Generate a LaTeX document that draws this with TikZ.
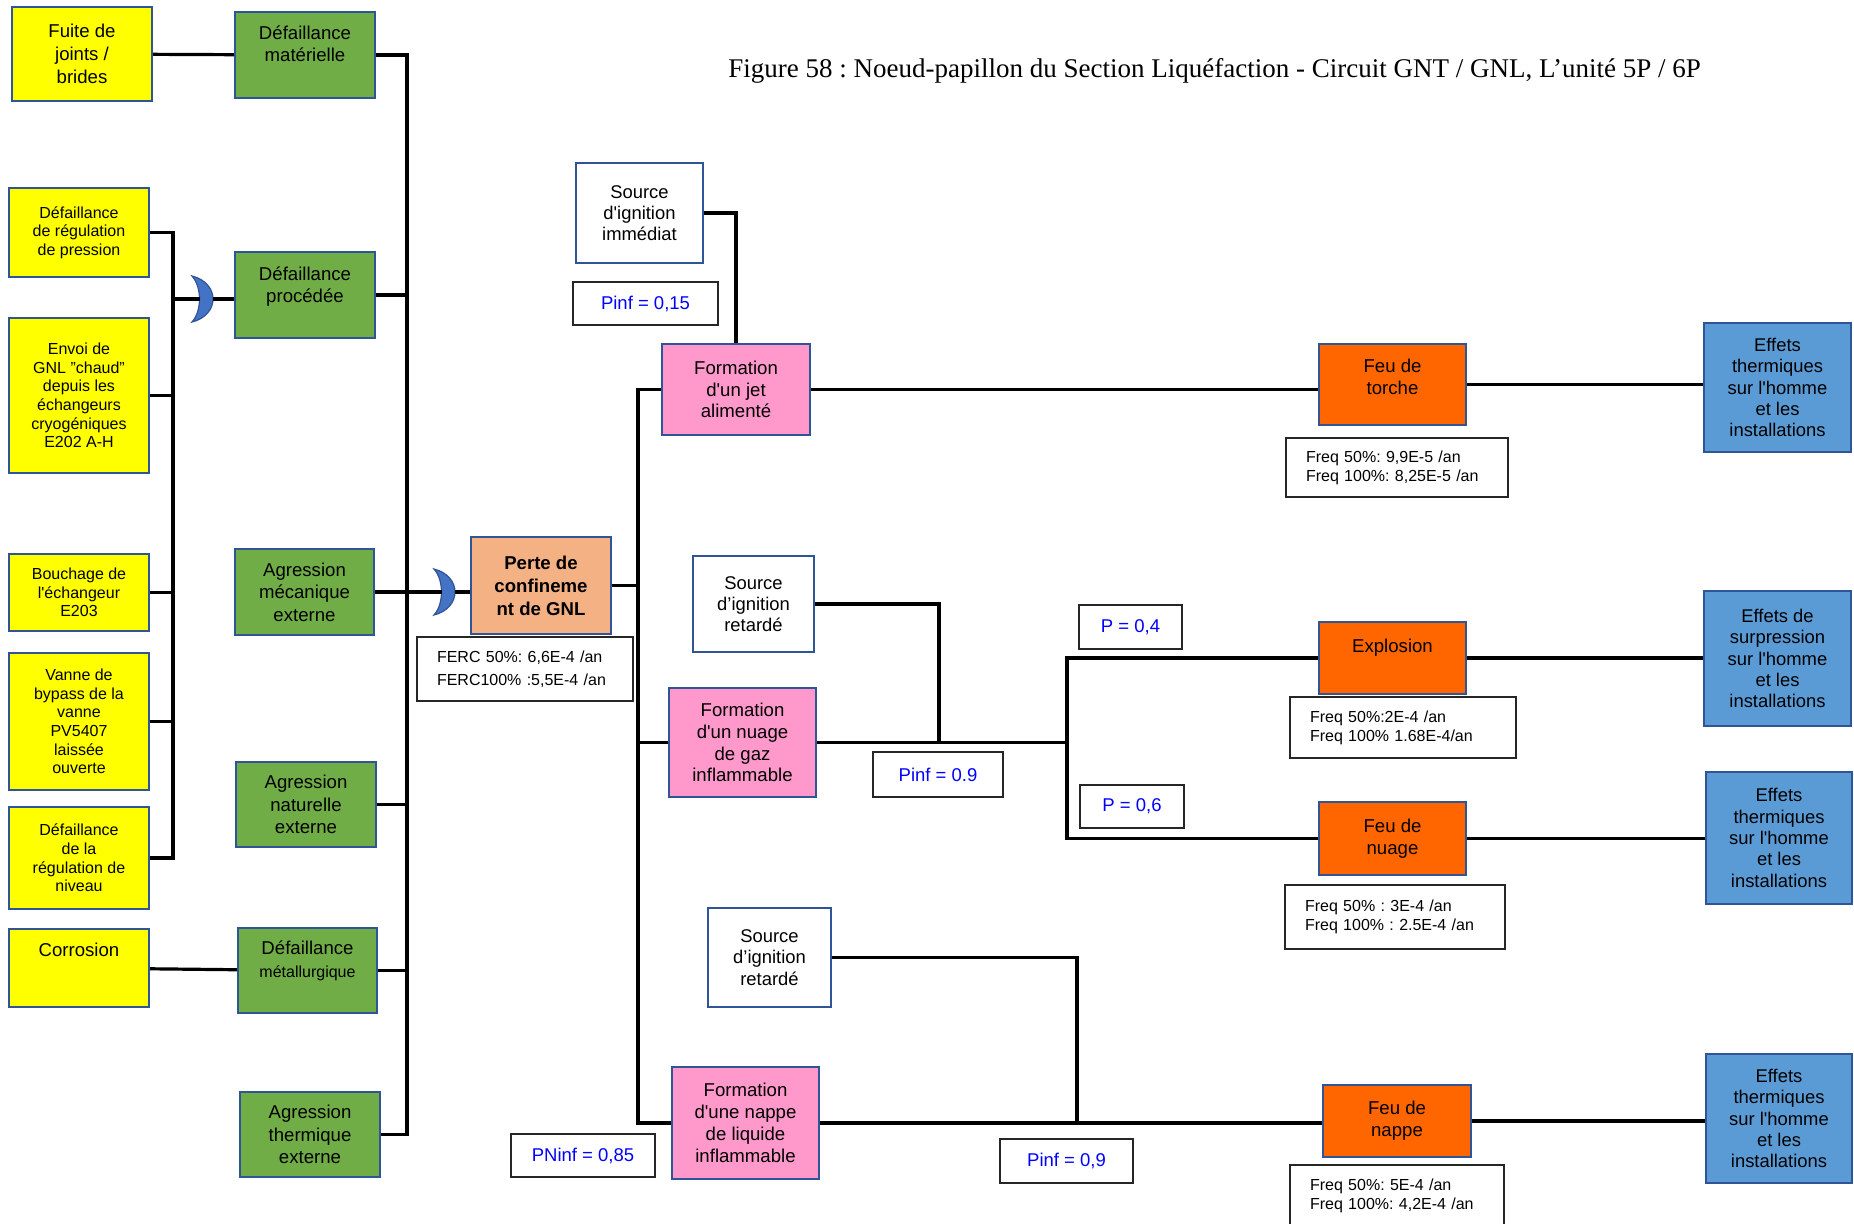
\documentclass[tikz,border=0pt]{standalone}
\usepackage{fontspec}
\setmainfont{Liberation Sans}
\newfontfamily\titlefont{Liberation Serif}
\definecolor{causefill}{HTML}{FFFF00}
\definecolor{eventfill}{HTML}{70AD47}
\definecolor{topfill}{HTML}{F4B183}
\definecolor{phenfill}{HTML}{FF99CC}
\definecolor{firefill}{HTML}{FF6600}
\definecolor{effectfill}{HTML}{5B9BD5}
\definecolor{frame}{HTML}{2F5597}
\definecolor{gatefill}{HTML}{4472C4}
\newcommand{\ap}{\textquotesingle}
% text block pushed up inside its box, box size unchanged
\newcommand{\liftup}[2]{\raisebox{#1}[\height][\depth]{\begin{tabular}{@{}c@{}}#2\end{tabular}}}

\begin{document}
\frenchspacing
\begin{tikzpicture}[
  x=0.5pt, y=-0.5pt,
  wh/.style 2 args={minimum width=#1*0.5pt, minimum height=#2*0.5pt},
  blk/.style={draw=frame, line width=1.2pt, inner sep=1pt, align=center,
    font=\fontsize{9.3}{11.3}\selectfont},
  causebox/.style={blk, fill=causefill, font=\fontsize{8}{9.3}\selectfont},
  bigtxt/.style={font=\fontsize{9.3}{11.5}\selectfont},
  eventbox/.style={blk, fill=eventfill},
  topbox/.style={blk, fill=topfill, font=\bfseries\fontsize{9.3}{11.5}\selectfont},
  srcbox/.style={blk, fill=white, font=\fontsize{9.2}{10.6}\selectfont},
  phenbox/.style={blk, fill=phenfill, font=\fontsize{9.3}{10.9}\selectfont},
  firebox/.style={blk, fill=firefill, font=\fontsize{9.3}{11}\selectfont},
  effbox/.style={blk, fill=effectfill, font=\fontsize{9.2}{10.7}\selectfont},
  probbox/.style={draw=black!85, line width=0.7pt, fill=white, inner sep=1pt,
    text=blue, font=\fontsize{9.25}{11}\selectfont},
  freqbox/.style={draw=black!85, line width=0.7pt, fill=white, inner xsep=10pt,
    inner ysep=1pt, align=left, font=\fontsize{8}{9.4}\selectfont},
  link/.style={line width=1.6pt},
  orgate/.pic={
    \path[fill=gatefill, draw=frame, line width=0.6pt]
      (0,-23) .. controls (28,-16) and (28,16) .. (0,23)
              .. controls (10,12) and (10,-12) .. (0,-23) -- cycle;
    \coordinate (-in) at (7.5,0);
    \coordinate (-out) at (21,0);
  },
]
  \path[use as bounding box, fill=white] (0,0) rectangle (1854,1223);
  \clip (0,0) rectangle (1854,1223);

  \node[font=\titlefont\fontsize{13.5}{16}\selectfont, anchor=west, inner sep=0pt]
    (title) at (728,71)
    {Figure 58 : Noeud-papillon du Section Liquéfaction - Circuit GNT / GNL, L’unité 5P / 6P};

  % Causes
  \node[causebox, bigtxt, wh={140}{94}] (y1) at (82,54) {Fuite de\\joints /\\brides};
  \node[causebox, wh={140}{89}] (y2) at (79,232.5) {Défaillance\\de régulation\\de pression};
  \node[causebox, wh={140}{155}] (y3) at (79,395.5)
    {Envoi de\\GNL "chaud"\\depuis les\\échangeurs\\cryogéniques\\E202 A-H};
  \node[causebox, wh={140}{77}] (y4) at (79,592.5) {Bouchage de\\l\ap échangeur\\E203};
  \node[causebox, wh={140}{137}] (y5) at (79,721.5)
    {Vanne de\\bypass de la\\vanne\\PV5407\\laissée\\ouverte};
  \node[causebox, wh={140}{102}] (y6) at (79,858) {Défaillance\\de la\\régulation de\\niveau};
  \node[causebox, bigtxt, wh={140}{78}] (y7) at (79,968) {\liftup{8pt}{Corrosion}};

  % Initiating events
  \node[eventbox, wh={140}{86}] (g1) at (305,55) {\liftup{4.5pt}{Défaillance\\matérielle}};
  \node[eventbox, wh={140}{86}] (g2) at (305,295) {\liftup{4pt}{Défaillance\\procédée}};
  \node[eventbox, wh={139}{86}] (g3) at (304.5,592) {Agression\\mécanique\\externe};
  \node[eventbox, wh={140}{85}] (g4) at (306,804.5) {Agression\\naturelle\\externe};
  \node[eventbox, wh={139}{85}] (g5) at (307.5,970.5)
    {\liftup{4.5pt}{Défaillance\\{\fontsize{8}{9.5}\selectfont métallurgique}}};
  \node[eventbox, wh={140}{85}] (g6) at (310,1134.5) {Agression\\thermique\\externe};

  % OR gates
  \pic (orA) at (192,299) {orgate};
  \pic (orB) at (434,592) {orgate};

  % Central event
  \node[topbox, wh={140}{97}] (perte) at (541,585.5) {Perte de\\confineme\\nt de GNL};
  \node[freqbox, text width=88pt, wh={216}{64}, font=\fontsize{8}{11.3}\selectfont]
    (ferc) at (525,669) {FERC 50\%: 6,6E-4 /an\\FERC100\% :5,5E-4 /an};

  % Ignition sources and dangerous phenomena
  \node[srcbox, wh={127}{100}] (s1) at (639.5,213) {Source\\d\ap ignition\\immédiat};
  \node[srcbox, wh={121}{96}] (s2) at (753.5,604) {Source\\d’ignition\\retardé};
  \node[srcbox, wh={123}{99}] (s3) at (769.5,957.5) {Source\\d’ignition\\retardé};
  \node[phenbox, wh={148}{91}] (jet) at (736,389.5) {Formation\\d\ap un jet\\alimenté};
  \node[phenbox, wh={147}{109}] (nuage) at (742.5,742.5)
    {Formation\\d\ap un nuage\\de gaz\\inflammable};
  \node[phenbox, wh={147}{112}] (nappe) at (745.5,1123)
    {Formation\\d\ap une nappe\\de liquide\\inflammable};

  \node[probbox, wh={145}{43}] (p1) at (645.5,303.5) {Pinf = 0,15};
  \node[probbox, wh={130}{45}] (p2) at (938,774.5) {Pinf = 0.9};
  \node[probbox, wh={103}{44}] (p3) at (1130.5,627) {P = 0,4};
  \node[probbox, wh={104}{43}] (p4) at (1132,806.5) {P = 0,6};
  \node[probbox, wh={144}{43}] (p5) at (583,1155.5) {PNinf = 0,85};
  \node[probbox, wh={133}{44}] (p6) at (1066.5,1161) {Pinf = 0,9};

  % Major accidents
  \node[firebox, wh={147}{81}] (ft) at (1392.5,384.5) {\liftup{2.75pt}{Feu de\\torche}};
  \node[firebox, wh={147}{72}] (ex) at (1392.5,658) {\liftup{5pt}{Explosion}};
  \node[firebox, wh={147}{73}] (fn) at (1392.5,838.5) {Feu de\\nuage};
  \node[firebox, wh={148}{72}] (fp) at (1397,1121) {Feu de\\nappe};

  \node[freqbox, text width=91pt, wh={222}{59}] (f1) at (1397,467.5)
    {Freq 50\%: 9,9E-5 /an\\Freq 100\%: 8,25E-5 /an};
  \node[freqbox, text width=93pt, wh={226}{61}] (f2) at (1403,727.5)
    {Freq 50\%:2E-4 /an\\Freq 100\% 1.68E-4/an};
  \node[freqbox, text width=90pt, wh={220}{64}] (f3) at (1395,917)
    {Freq 50\% : 3E-4 /an\\Freq 100\% : 2.5E-4 /an};
  \node[freqbox, text width=87pt, wh={214}{62}] (f4) at (1397,1196)
    {Freq 50\%: 5E-4 /an\\Freq 100\%: 4,2E-4 /an};

  % Effects
  \node[effbox, wh={147}{129}] (e1) at (1777.5,387.5)
    {Effets\\thermiques\\sur l\ap homme\\et les\\installations};
  \node[effbox, wh={147}{135}] (e2) at (1777.5,658.5)
    {Effets de\\surpression\\sur l\ap homme\\et les\\installations};
  \node[effbox, wh={146}{132}] (e3) at (1779,838)
    {Effets\\thermiques\\sur l\ap homme\\et les\\installations};
  \node[effbox, wh={146}{129}] (e4) at (1779,1118.5)
    {Effets\\thermiques\\sur l\ap homme\\et les\\installations};

  % Bus lines
  \coordinate (busY) at (173,0);
  \coordinate (busG) at (407,0);
  \coordinate (busP) at (638,0);
  \coordinate (jn1) at (939,742.5);
  \coordinate (split) at (1067,742.5);
  \coordinate (jn2) at (1077,1123);

  % Left side
  \draw[link] (y1) -- (g1);
  \draw[link] (y7) -- (g5);
  \draw[link] (y2.east) -| (busY |- y6.east) -- (y6.east);
  \foreach \n in {y3,y4,y5}
    \draw[link] (\n.east) -- (busY |- \n.east);
  \draw[link] (busY |- orA-in) -- (orA-in);
  \draw[link] (orA-out) -- (orA-out -| g2.west);
  \draw[link] (g1.east) -| (busG |- g6.east) -- (g6.east);
  \foreach \n in {g2,g4,g5}
    \draw[link] (\n.east) -- (busG |- \n.east);
  \draw[link] (g3.east) -- (orB-in);
  \draw[link] (orB-out) -- (orB-out -| perte.west);

  % Right side
  \draw[link] (perte.east) -- (busP |- perte.east);
  \draw[link] (jet.west) -| (busP |- nappe.west) -- (nappe.west);
  \draw[link] (nuage.west) -- (busP |- nuage.west);
  \draw[link] (s1.east) -| (jet.north);
  \draw[link] (s2.east) -| (jn1);
  \draw[link] (s3.east) -| (jn2);
  \draw[link] (jet.east) -- (jet.east -| ft.west);
  \draw[link] (nuage.east) -- (split);
  \draw[link] (ex.west) -| (split) |- (fn.west);
  \draw[link] (nappe.east) -- (nappe.east -| fp.west);
  \foreach \a/\b in {ft/e1, ex/e2, fn/e3, fp/e4}
    \draw[link] (\a.east) -- (\a.east -| \b.west);
\end{tikzpicture}
\end{document}
